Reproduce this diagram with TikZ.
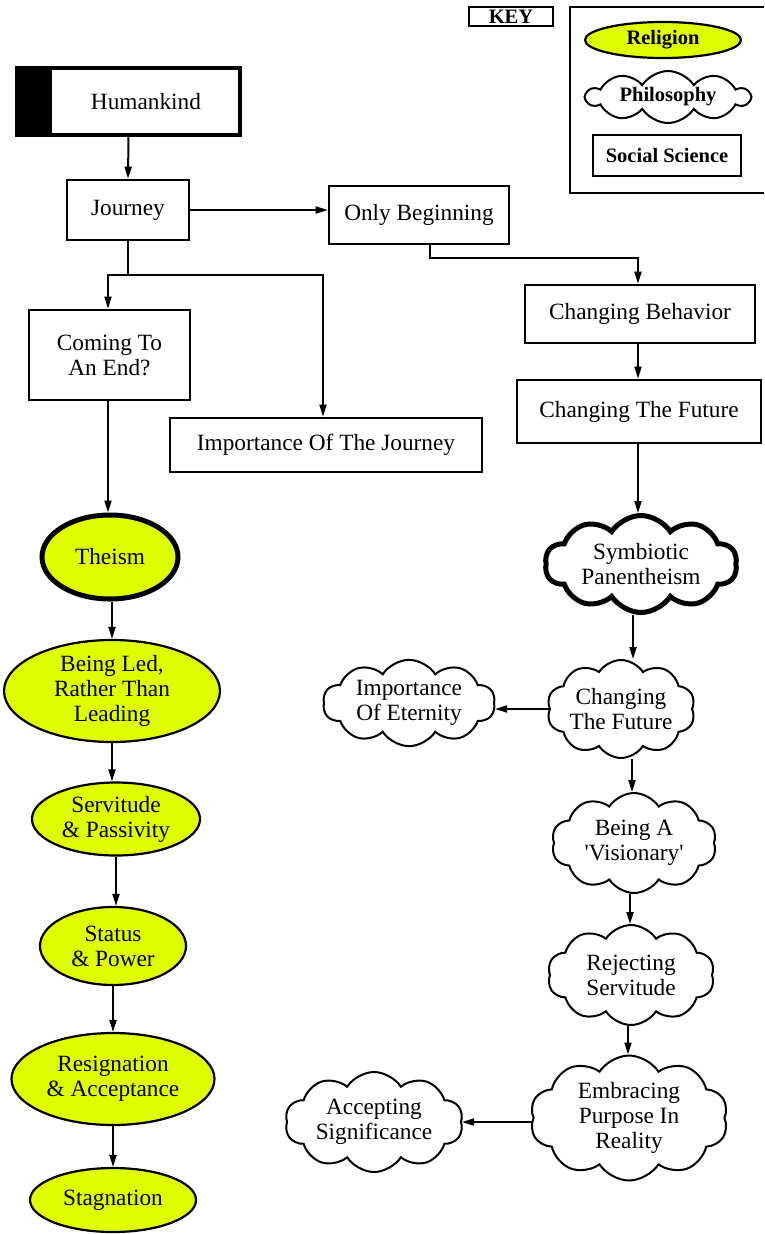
\documentclass[tikz,border=0pt]{standalone}
\usepackage{fontspec}
\setmainfont{Liberation Serif}
\usetikzlibrary{shapes.geometric,shapes.symbols,arrows.meta}
\definecolor{relig}{RGB}{223,255,0}
\begin{document}
\begin{tikzpicture}[x=1pt,y=-1pt,
  every node/.style={font=\fontsize{23.3}{25}\selectfont, align=center, inner sep=0pt},
  keyfont/.style={font=\bfseries\fontsize{20.5}{22}\selectfont},
  sbox/.style={draw, line width=2.6pt, rectangle},
  rel/.style={draw, line width=2.2pt, ellipse, fill=relig},
  phil/.style={draw, line width=2pt, cloud, cloud puffs=10, cloud puff arc=115, cloud ignores aspect, fill=white},
  arr/.style={line width=2pt, -{Triangle[length=12pt,width=7pt]}},
  ln/.style={line width=2pt}
]
\useasboundingbox (0,0) rectangle (764,1234);

% ---------- key ----------
\node[draw, line width=1.2pt, minimum width=84pt, minimum height=19pt, keyfont] (keylbl) at (511,16.5) {KEY};
\draw[line width=1.2pt] (764,7) -- (570,7) -- (570,193) -- (764,193);
\node[rel, minimum width=156pt, minimum height=36pt, keyfont] (krel) at (663,40) {Religion};
\node[phil, minimum width=163pt, minimum height=52pt, keyfont] (kphil) at (668,97) {Philosophy};
\node[sbox, line width=2pt, minimum width=148pt, minimum height=41pt, keyfont] (ksoc) at (667,155.5) {Social Science};

% ---------- top boxes ----------
\node[sbox, line width=4.5pt, minimum width=223pt, minimum height=67pt,
  path picture={\fill (path picture bounding box.north west) rectangle ([xshift=35pt]path picture bounding box.south west);}]
  (hk) at (128.5,101.5) {\hspace{35pt}Humankind};
\node[sbox, minimum width=122pt, minimum height=60pt] (jour) at (128,210) {Journey};
\node[sbox, minimum width=180pt, minimum height=58pt] (ob) at (419,215) {Only Beginning};
\node[sbox, minimum width=230pt, minimum height=58pt] (cb) at (640,314) {Changing Behavior};
\node[sbox, minimum width=244pt, minimum height=63pt] (cfb) at (639,411.5) {Changing The Future};
\node[sbox, minimum width=161pt, minimum height=90pt] (coming) at (109.5,355) {Coming To\\An End?};
\node[sbox, minimum width=312pt, minimum height=54pt] (impj) at (326,445) {Importance Of The Journey};

% ---------- religion column ----------
\node[rel, line width=5pt, minimum width=136pt, minimum height=84pt] (theism) at (110,557) {Theism};
\node[rel, minimum width=216pt, minimum height=102pt] (led) at (112,691) {Being Led,\\Rather Than\\Leading};
\node[rel, minimum width=168pt, minimum height=73pt] (serv) at (116,819) {Servitude\\\&~Passivity};
\node[rel, minimum width=146pt, minimum height=78pt] (stat) at (113,946) {Status\\\&~Power};
\node[rel, minimum width=203pt, minimum height=92pt] (resig) at (113,1079) {Resignation\\\&~Acceptance};
\node[rel, minimum width=166pt, minimum height=64pt] (stag) at (113,1200) {Stagnation};

% ---------- philosophy column ----------
\node[phil, line width=5pt, minimum width=192pt, minimum height=97pt] (sym) at (641,564) {Symbiotic\\Panentheism};
\node[phil, minimum width=137pt, minimum height=98pt] (cfc) at (621,709) {Changing\\The Future};
\node[phil, minimum width=172pt, minimum height=82pt] (ete) at (409,703) {Importance\\Of Eternity};
\node[phil, minimum width=165pt, minimum height=100pt] (vis) at (634,843) {Being A\\\textquotesingle Visionary\textquotesingle};
\node[phil, minimum width=167pt, minimum height=100pt] (rej) at (631,975) {Rejecting\\Servitude};
\node[phil, minimum width=198pt, minimum height=125pt] (emb) at (629,1118) {Embracing\\Purpose In\\Reality};
\node[phil, minimum width=178pt, minimum height=100pt] (acc) at (374,1122) {Accepting\\Significance};

% ---------- connectors ----------
\draw[arr] (hk.south) -- (jour.north);
\draw[arr] (jour.east) -- (jour.east -| ob.west);
\draw[arr] ([xshift=11pt]ob.south) -- ++(0,13) -| ([xshift=-2pt]cb.north);
\draw[arr] ([xshift=-2pt]cb.south) -- ([xshift=-1pt]cfb.north);
\draw[arr] ([xshift=-1pt]cfb.south) -- ([xshift=-3pt]sym.north);
\draw[ln] (jour.south) -- ++(0,34) coordinate (jb);
\draw[arr] (jb) -| ([xshift=-1.5pt]coming.north);
\draw[arr] (jb) -| ([xshift=-3pt]impj.north);
\draw[arr] ([xshift=-1.5pt]coming.south) -- ([xshift=-1.5pt]coming.south |- theism.north);
\draw[arr] ([xshift=2pt]theism.south) -- (led.north);
\draw[arr] (led.south) -- ([xshift=-4pt]serv.north);
\draw[arr] (serv.south) -- ([xshift=3pt]stat.north);
\draw[arr] (stat.south) -- (resig.north);
\draw[arr] (resig.south) -- (stag.north);
\draw[arr] ([xshift=-8pt]sym.south) -- ([xshift=12pt]cfc.north);
\draw[arr] (cfc.west) -- (cfc.west -| ete.east);
\draw[arr] ([xshift=11pt]cfc.south) -- ([xshift=-2pt]vis.north);
\draw[arr] ([xshift=-4pt]vis.south) -- ([xshift=-1pt]rej.north);
\draw[arr] ([xshift=-3pt]rej.south) -- ([xshift=-1pt]emb.north);
\draw[arr] ([yshift=-4pt]emb.west) -- ([yshift=-4pt]emb.west -| acc.east);
\end{tikzpicture}
\end{document}
